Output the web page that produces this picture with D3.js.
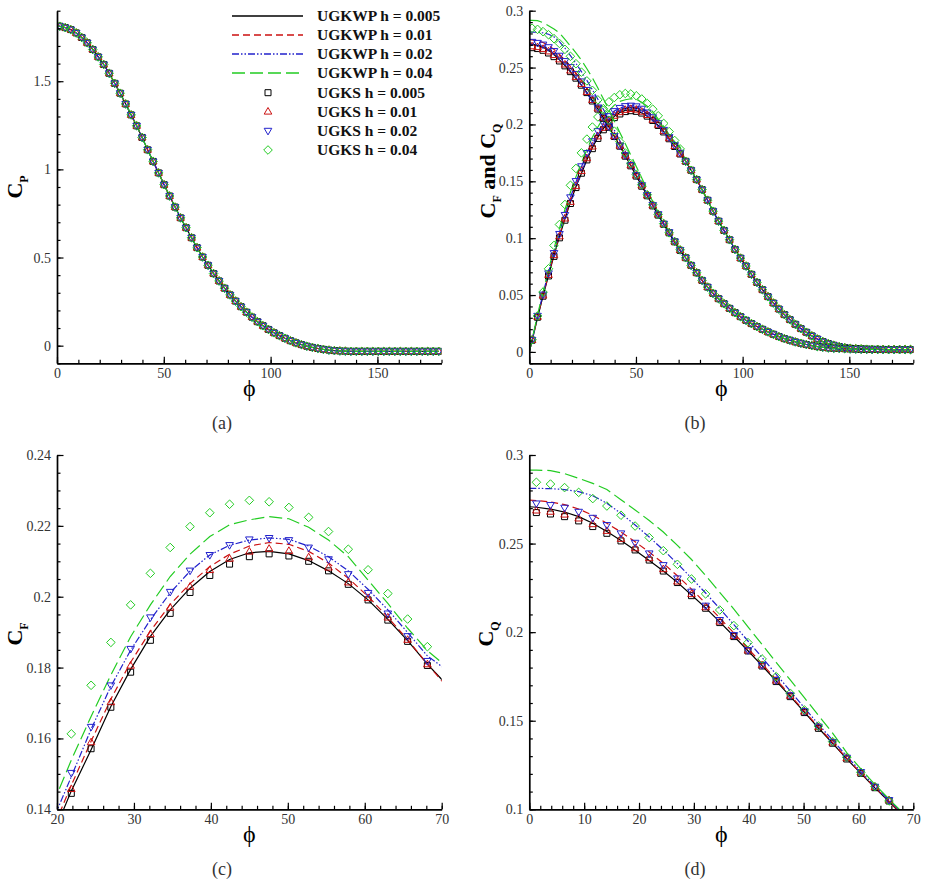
<!DOCTYPE html>
<html lang="en">
<head>
<meta charset="UTF-8">
<title>Cp, CF and CQ versus phi</title>
<script src="https://d3js.org/d3.v7.min.js"></script>
<style>
  body { margin: 0; background: #fff; }
  svg text { font-family: "Liberation Serif", "DejaVu Serif", serif; }
  .tick text { font-size: 14px; fill: #333; }
  .domain { stroke: #000; stroke-width: 1.7px; }
  .tick line { stroke: #000; stroke-width: 1.2px; }
</style>
</head>
<body>
<div id="chart"></div>
<script>
// ---- data ----
// UGKS cell centres (deg)
var phi = [1.29, 3.86, 6.43, 9.00, 11.57, 14.14, 16.71, 19.29, 21.86, 24.43,
  27.00, 29.57, 32.14, 34.71, 37.29, 39.86, 42.43, 45.00, 47.57, 50.14,
  52.71, 55.29, 57.86, 60.43, 63.00, 65.57, 68.14, 70.71, 73.29, 75.86,
  78.43, 81.00, 83.57, 86.14, 88.71, 91.29, 93.86, 96.43, 99.00, 101.57,
  104.14, 106.71, 109.29, 111.86, 114.43, 117.00, 119.57, 122.14, 124.71, 127.29,
  129.86, 132.43, 135.00, 137.57, 140.14, 142.71, 145.29, 147.86, 150.43, 153.00,
  155.57, 158.14, 160.71, 163.29, 165.86, 168.43, 171.00, 173.57, 176.14, 178.71];

// pressure coefficient (all runs coincide)
var cp0 = 1.815;
var cp = [1.812, 1.804, 1.793, 1.774, 1.748, 1.718, 1.680, 1.638, 1.595, 1.545,
  1.488, 1.432, 1.371, 1.309, 1.247, 1.181, 1.111, 1.045, 0.980, 0.913,
  0.849, 0.786, 0.725, 0.669, 0.612, 0.556, 0.503, 0.456, 0.409, 0.367,
  0.326, 0.288, 0.253, 0.221, 0.190, 0.162, 0.136, 0.113, 0.092, 0.073,
  0.057, 0.042, 0.028, 0.016, 0.006, -0.003, -0.010, -0.016, -0.021, -0.025,
  -0.028, -0.030, -0.031, -0.032, -0.032, -0.032, -0.032, -0.032, -0.032, -0.032,
  -0.032, -0.032, -0.032, -0.032, -0.032, -0.032, -0.032, -0.032, -0.032, -0.032];

// CF, CQ beyond phi = 73 (all runs coincide)
var cfTail = [0.1676, 0.1597, 0.1515, 0.1427, 0.1334, 0.1237, 0.1150, 0.1068, 0.0986, 0.0901,
  0.0825, 0.0755, 0.0682, 0.0611, 0.0547, 0.0486, 0.0430, 0.0377, 0.0328, 0.0284,
  0.0243, 0.0205, 0.0173, 0.0141, 0.0114, 0.0091, 0.0073, 0.0059, 0.0047, 0.0038,
  0.0032, 0.0028, 0.0026, 0.0024, 0.0023, 0.0022, 0.0022, 0.0021, 0.0021, 0.0021,
  0.0021, 0.0021];
var cqTail = [0.0828, 0.0761, 0.0696, 0.0629, 0.0570, 0.0515, 0.0468, 0.0424, 0.0383, 0.0345,
  0.0310, 0.0278, 0.0249, 0.0223, 0.0199, 0.0176, 0.0155, 0.0135, 0.0117, 0.0103,
  0.0088, 0.0076, 0.0065, 0.0056, 0.0047, 0.0041, 0.0035, 0.0032, 0.0030, 0.0028,
  0.0026, 0.0025, 0.0024, 0.0023, 0.0022, 0.0022, 0.0021, 0.0021, 0.0021, 0.0021,
  0.0021, 0.0021];

// UGKWP lines, phi = 0, 1.29 ... 70.71
var cfWp005 = [0, 0.0098, 0.0300, 0.0490, 0.0672, 0.0848, 0.1013, 0.1170, 0.1318, 0.1452,
  0.1568, 0.1690, 0.1795, 0.1888, 0.1963, 0.2024, 0.2071, 0.2105, 0.2124, 0.2128,
  0.2121, 0.2102, 0.2073, 0.2037, 0.1991, 0.1936, 0.1876, 0.1810, 0.1750];
var cfWp01 = [0, 0.0100, 0.0305, 0.0498, 0.0682, 0.0860, 0.1027, 0.1186, 0.1335, 0.1468,
  0.1592, 0.1711, 0.1815, 0.1903, 0.1978, 0.2037, 0.2085, 0.2120, 0.2143, 0.2153,
  0.2148, 0.2128, 0.2095, 0.2052, 0.2001, 0.1942, 0.1879, 0.1810, 0.1745];
var cfWp02 = [0, 0.0104, 0.0315, 0.0512, 0.0700, 0.0882, 0.1052, 0.1213, 0.1360, 0.1492,
  0.1626, 0.1747, 0.1849, 0.1935, 0.2011, 0.2072, 0.2118, 0.2145, 0.2160, 0.2166,
  0.2162, 0.2143, 0.2113, 0.2073, 0.2021, 0.1963, 0.1899, 0.1833, 0.1792];
var cfWp04 = [0, 0.0108, 0.0325, 0.0528, 0.0722, 0.0908, 0.1085, 0.1252, 0.1405, 0.1539,
  0.1662, 0.1779, 0.1887, 0.1977, 0.2057, 0.2120, 0.2170, 0.2203, 0.2217, 0.2226,
  0.2220, 0.2196, 0.2160, 0.2113, 0.2047, 0.1981, 0.1911, 0.1848, 0.1801];

var cqWp005 = [0.2708, 0.2705, 0.2695, 0.2678, 0.2652, 0.2615, 0.2568, 0.2518, 0.2462, 0.2405,
  0.2345, 0.2281, 0.2210, 0.2137, 0.2058, 0.1977, 0.1895, 0.1811, 0.1723, 0.1637,
  0.1548, 0.1459, 0.1373, 0.1285, 0.1203, 0.1121, 0.1043, 0.0962, 0.0890];
var cqWp01 = [0.2745, 0.2743, 0.2735, 0.2720, 0.2695, 0.2660, 0.2615, 0.2565, 0.2510, 0.2452,
  0.2388, 0.2318, 0.2243, 0.2163, 0.2080, 0.1995, 0.1908, 0.1821, 0.1733, 0.1644,
  0.1554, 0.1465, 0.1377, 0.1289, 0.1205, 0.1124, 0.1046, 0.0966, 0.0893];
var cqWp02 = [0.2812, 0.2812, 0.2810, 0.2805, 0.2793, 0.2770, 0.2728, 0.2670, 0.2605, 0.2537,
  0.2464, 0.2387, 0.2305, 0.2221, 0.2133, 0.2043, 0.1950, 0.1857, 0.1762, 0.1668,
  0.1573, 0.1480, 0.1390, 0.1300, 0.1214, 0.1130, 0.1052, 0.0975, 0.0898];
var cqWp04 = [0.2915, 0.2915, 0.2912, 0.2895, 0.2868, 0.2840, 0.2805, 0.2748, 0.2690, 0.2630,
  0.2565, 0.2490, 0.2410, 0.2320, 0.2225, 0.2130, 0.2030, 0.1930, 0.1830, 0.1730,
  0.1630, 0.1530, 0.1430, 0.1320, 0.1228, 0.1140, 0.1058, 0.0978, 0.0900];

// UGKS symbols, phi = 1.29 ... 70.71
var cfKs005 = [0.0103, 0.0305, 0.0490, 0.0668, 0.0840, 0.1003, 0.1158, 0.1305, 0.1445, 0.1571,
  0.1688, 0.1787, 0.1877, 0.1953, 0.2012, 0.2060, 0.2092, 0.2113, 0.2121, 0.2115,
  0.2100, 0.2073, 0.2035, 0.1991, 0.1934, 0.1874, 0.1806, 0.1740];
var cfKs01 = [0.0104, 0.0308, 0.0496, 0.0676, 0.0850, 0.1015, 0.1172, 0.1318, 0.1457, 0.1589,
  0.1702, 0.1805, 0.1894, 0.1969, 0.2028, 0.2075, 0.2107, 0.2127, 0.2135, 0.2129,
  0.2111, 0.2082, 0.2040, 0.1996, 0.1941, 0.1878, 0.1809, 0.1742];
var cfKs02 = [0.0107, 0.0318, 0.0505, 0.0692, 0.0870, 0.1038, 0.1205, 0.1360, 0.1503, 0.1633,
  0.1750, 0.1853, 0.1942, 0.2014, 0.2074, 0.2118, 0.2146, 0.2162, 0.2166, 0.2160,
  0.2139, 0.2106, 0.2064, 0.2011, 0.1953, 0.1889, 0.1819, 0.1752];
var cfKs04 = [0.0107, 0.0316, 0.0526, 0.0731, 0.0936, 0.1120, 0.1296, 0.1465, 0.1613, 0.1750,
  0.1871, 0.1977, 0.2066, 0.2139, 0.2198, 0.2237, 0.2261, 0.2272, 0.2268, 0.2252,
  0.2224, 0.2184, 0.2134, 0.2076, 0.2009, 0.1937, 0.1859, 0.1785];

var cqKs005 = [0.2675, 0.2667, 0.2652, 0.2628, 0.2596, 0.2558, 0.2515, 0.2464, 0.2407, 0.2345,
  0.2280, 0.2206, 0.2135, 0.2054, 0.1975, 0.1894, 0.1809, 0.1721, 0.1636, 0.1546,
  0.1457, 0.1373, 0.1284, 0.1203, 0.1122, 0.1047, 0.0968, 0.0893];
var cqKs01 = [0.2686, 0.2679, 0.2663, 0.2641, 0.2609, 0.2571, 0.2526, 0.2473, 0.2417, 0.2355,
  0.2285, 0.2214, 0.2140, 0.2059, 0.1978, 0.1896, 0.1813, 0.1726, 0.1640, 0.1551,
  0.1463, 0.1376, 0.1288, 0.1207, 0.1126, 0.1051, 0.0970, 0.0895];
var cqKs02 = [0.2727, 0.2718, 0.2703, 0.2680, 0.2646, 0.2605, 0.2558, 0.2505, 0.2445, 0.2379,
  0.2304, 0.2229, 0.2150, 0.2069, 0.1984, 0.1899, 0.1815, 0.1730, 0.1644, 0.1555,
  0.1467, 0.1380, 0.1292, 0.1211, 0.1128, 0.1053, 0.0972, 0.0896];
var cqKs04 = [0.2846, 0.2836, 0.2816, 0.2789, 0.2754, 0.2712, 0.2660, 0.2599, 0.2534, 0.2460,
  0.2383, 0.2300, 0.2216, 0.2125, 0.2037, 0.1941, 0.1849, 0.1749, 0.1655, 0.1561,
  0.1470, 0.1382, 0.1294, 0.1209, 0.1128, 0.1047, 0.0970, 0.0898];

var legendNames = ["UGKWP h = 0.005", "UGKWP h = 0.01", "UGKWP h = 0.02", "UGKWP h = 0.04",
  "UGKS h = 0.005", "UGKS h = 0.01", "UGKS h = 0.02", "UGKS h = 0.04"];

// tick labels
var ticksAx = [0, 50, 100, 150], ticksAy = [0, 0.5, 1, 1.5];
var ticksBx = [0, 50, 100, 150], ticksBy = [0, 0.05, 0.1, 0.15, 0.2, 0.25, 0.3];
var ticksCx = [20, 30, 40, 50, 60, 70], ticksCy = [0.14, 0.16, 0.18, 0.2, 0.22, 0.24];
var ticksDx = [0, 10, 20, 30, 40, 50, 60, 70], ticksDy = [0.1, 0.15, 0.2, 0.25, 0.3];

// ---- build series ----
var phiLine = [0].concat(phi);
var cpLines = [0, 1, 2, 3].map(function () { return [cp0].concat(cp); });
var cpMarks = [cp, cp, cp, cp];
var cfLines = [cfWp005, cfWp01, cfWp02, cfWp04].map(function (a) { return a.concat(cfTail); });
var cqLines = [cqWp005, cqWp01, cqWp02, cqWp04].map(function (a) { return a.concat(cqTail); });
var cfMarks = [cfKs005, cfKs01, cfKs02, cfKs04].map(function (a) { return a.concat(cfTail); });
var cqMarks = [cqKs005, cqKs01, cqKs02, cqKs04].map(function (a) { return a.concat(cqTail); });

var serif = "'Liberation Serif', 'DejaVu Serif', serif";

var lineStyles = [
  { color: "#000000", dash: null },
  { color: "#cc1111", dash: "7,4" },
  { color: "#2222cc", dash: "7,2,1.5,2,1.5,2" },
  { color: "#22cc22", dash: "13,5" }
];
var markStyles = [
  { color: "#000000", shape: "square" },
  { color: "#cc1111", shape: "up" },
  { color: "#2222cc", shape: "down" },
  { color: "#22cc22", shape: "diamond" }
];

function shapePath(s) {
  if (s === "square") return "M-3,-3H3V3H-3Z";
  if (s === "up") return "M0,-4.2L3.8,2.4L-3.8,2.4Z";
  if (s === "down") return "M0,4.2L3.8,-2.4L-3.8,-2.4Z";
  return "M0,-4.3L4.3,0L0,4.3L-4.3,0Z";
}

var fmt = function (d) { return String(+d.toFixed(3)); };

var svg = d3.select("#chart").append("svg").attr("width", 926).attr("height", 885);

function drawPanel(p) {
  var x = d3.scaleLinear().domain(p.xd).range([p.left, p.right]);
  var y = d3.scaleLinear().domain(p.yd).range([p.bottom, p.top]);
  var g = svg.append("g");

  svg.append("clipPath").attr("id", "clip" + p.id)
    .append("rect")
    .attr("x", p.left).attr("y", p.top)
    .attr("width", p.right - p.left).attr("height", p.bottom - p.top);
  var plot = g.append("g").attr("clip-path", "url(#clip" + p.id + ")");

  var line = d3.line().x(function (d) { return x(d[0]); }).y(function (d) { return y(d[1]); });

  // every group of curves: UGKWP lines first, then UGKS symbols
  p.groups.forEach(function (grp) {
    grp.lines.forEach(function (vals, i) {
      var st = lineStyles[i];
      plot.append("path")
        .datum(vals.map(function (v, k) { return [phiLine[k], v]; }))
        .attr("fill", "none")
        .attr("stroke", st.color)
        .attr("stroke-width", 1.2)
        .attr("stroke-dasharray", st.dash)
        .attr("d", line);
    });
    grp.marks.forEach(function (vals, i) {
      var st = markStyles[i];
      plot.append("g").selectAll("path")
        .data(vals.map(function (v, k) { return [phi[k], v]; }))
        .join("path")
        .attr("transform", function (d) { return "translate(" + x(d[0]) + "," + y(d[1]) + ")"; })
        .attr("d", shapePath(st.shape))
        .attr("fill", "none")
        .attr("stroke", st.color)
        .attr("stroke-width", 1);
    });
  });

  // minor ticks
  var xMinor = d3.range(p.xd[0], p.xd[1] + 1e-9, p.xStep);
  var yMinor = d3.range(p.yd[0], p.yd[1] + 1e-9, p.yStep);
  g.append("g").attr("transform", "translate(0," + p.bottom + ")")
    .call(d3.axisBottom(x).tickValues(xMinor).tickSize(-3.5).tickFormat(""))
    .call(function (a) { a.select(".domain").remove(); });
  g.append("g").attr("transform", "translate(" + p.left + ",0)")
    .call(d3.axisLeft(y).tickValues(yMinor).tickSize(-3.5).tickFormat(""))
    .call(function (a) { a.select(".domain").remove(); });

  // major ticks + axis lines
  g.append("g").attr("transform", "translate(0," + p.bottom + ")")
    .call(d3.axisBottom(x).tickValues(p.xTicks).tickSizeInner(-6.5).tickSizeOuter(0)
      .tickPadding(4.5).tickFormat(fmt))
    .attr("font-family", serif).attr("font-size", 14);
  g.append("g").attr("transform", "translate(" + p.left + ",0)")
    .call(d3.axisLeft(y).tickValues(p.yTicks).tickSizeInner(-6.5).tickSizeOuter(0)
      .tickPadding(6).tickFormat(fmt))
    .attr("font-family", serif).attr("font-size", 14);

  // x title
  g.append("text")
    .attr("x", (p.left + p.right) / 2)
    .attr("y", p.bottom + 33)
    .attr("text-anchor", "middle")
    .style("font-size", "24px")
    .text("\u03D5");

  // y title
  var t = g.append("text")
    .attr("transform", "translate(" + p.titleX + "," + p.titleY + ") rotate(-90)")
    .attr("text-anchor", "middle")
    .style("font-size", "22px")
    .style("font-weight", "bold");
  p.title.forEach(function (part) {
    var s = t.append("tspan").text(part.t);
    if (part.sub) s.style("font-size", "12px").attr("dy", 6);
    if (part.back) s.attr("dy", -6);
  });

  // panel label
  g.append("text")
    .attr("x", p.labelX).attr("y", p.labelY)
    .attr("text-anchor", "middle")
    .style("font-size", "18px")
    .style("fill", "#333")
    .text(p.label);
}

drawPanel({
  id: "a", left: 57, right: 441.5, top: 10.7, bottom: 363.3,
  xd: [0, 180], yd: [-0.1, 1.9], xStep: 10, yStep: 0.1,
  xTicks: ticksAx, yTicks: ticksAy,
  groups: [{ lines: cpLines, marks: cpMarks }],
  title: [{ t: "C" }, { t: "P", sub: true }],
  titleX: 22, titleY: 187, label: "(a)", labelX: 222, labelY: 429
});
drawPanel({
  id: "b", left: 529.3, right: 913.3, top: 10.7, bottom: 363.3,
  xd: [0, 180], yd: [-0.01, 0.3], xStep: 10, yStep: 0.01,
  xTicks: ticksBx, yTicks: ticksBy,
  groups: [{ lines: cfLines, marks: cfMarks }, { lines: cqLines, marks: cqMarks }],
  title: [{ t: "C" }, { t: "F", sub: true }, { t: " and C", back: true }, { t: "Q", sub: true }],
  titleX: 495, titleY: 171, label: "(b)", labelX: 695, labelY: 429
});
drawPanel({
  id: "c", left: 57, right: 441.7, top: 455, bottom: 809.3,
  xd: [20, 70], yd: [0.14, 0.24], xStep: 2, yStep: 0.005,
  xTicks: ticksCx, yTicks: ticksCy,
  groups: [{ lines: cfLines, marks: cfMarks }],
  title: [{ t: "C" }, { t: "F", sub: true }],
  titleX: 22, titleY: 634, label: "(c)", labelX: 222, labelY: 875
});
drawPanel({
  id: "d", left: 529.3, right: 913.3, top: 455, bottom: 809.3,
  xd: [0, 70], yd: [0.1, 0.3], xStep: 2, yStep: 0.01,
  xTicks: ticksDx, yTicks: ticksDy,
  groups: [{ lines: cqLines, marks: cqMarks }],
  title: [{ t: "C" }, { t: "Q", sub: true }],
  titleX: 493, titleY: 634, label: "(d)", labelX: 695, labelY: 875
});

// legend in panel (a)
var legRows = [16, 35, 54, 73, 92.7, 111.7, 130.7, 150];
var leg = svg.append("g");
legendNames.forEach(function (name, i) {
  var yy = legRows[i];
  if (i < 4) {
    leg.append("line").attr("x1", 232).attr("x2", 303).attr("y1", yy).attr("y2", yy)
      .attr("stroke", lineStyles[i].color).attr("stroke-width", 1.3)
      .attr("stroke-dasharray", lineStyles[i].dash);
  } else {
    leg.append("path").attr("transform", "translate(268," + yy + ")")
      .attr("d", shapePath(markStyles[i - 4].shape))
      .attr("fill", "none").attr("stroke", markStyles[i - 4].color).attr("stroke-width", 1);
  }
  leg.append("text").attr("x", 317).attr("y", yy).attr("dy", "0.33em")
    .style("font-size", "15.5px").style("font-weight", "bold").style("fill", "#111")
    .text(name);
});
</script>
</body>
</html>
